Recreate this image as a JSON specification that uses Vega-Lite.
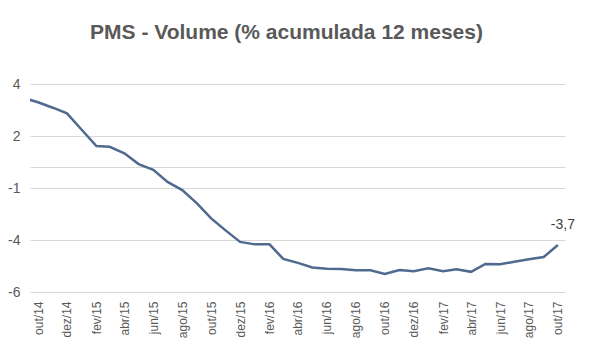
{
  "$schema": "https://vega.github.io/schema/vega-lite/v6.json",
  "width": 535,
  "height": 208,
  "autosize": "none",
  "padding": {"left": 30, "top": 84, "right": 37, "bottom": 72},
  "background": "white",
  "config": {
    "view": {"stroke": null},
    "font": "Liberation Sans",
    "axis": {"labelFont": "Liberation Sans"},
    "locale": {
      "number": {"decimal": ",", "thousands": ".", "grouping": [3], "currency": ["R$", ""], "minus": "-"},
      "time": {
        "dateTime": "%A, %e de %B de %Y. %X",
        "date": "%d/%m/%Y",
        "time": "%H:%M:%S",
        "periods": ["AM", "PM"],
        "days": ["Domingo", "Segunda", "Terça", "Quarta", "Quinta", "Sexta", "Sábado"],
        "shortDays": ["Dom", "Seg", "Ter", "Qua", "Qui", "Sex", "Sáb"],
        "months": ["Janeiro", "Fevereiro", "Março", "Abril", "Maio", "Junho", "Julho", "Agosto", "Setembro", "Outubro", "Novembro", "Dezembro"],
        "shortMonths": ["jan", "fev", "mar", "abr", "mai", "jun", "jul", "ago", "set", "out", "nov", "dez"]
      }
    }
  },
  "title": {
    "text": "PMS - Volume (% acumulada 12 meses)",
    "fontSize": 21,
    "fontWeight": "bold",
    "font": "Liberation Sans",
    "color": "#595959",
    "anchor": "middle",
    "offset": 34,
    "dx": -11
  },
  "data": {
    "values": [
      {"mes": "2014-09-01", "v": 3.33},
      {"mes": "2014-10-01", "v": 3.12},
      {"mes": "2014-11-01", "v": 2.86},
      {"mes": "2014-12-01", "v": 2.59},
      {"mes": "2015-01-01", "v": 1.80},
      {"mes": "2015-02-01", "v": 1.02},
      {"mes": "2015-03-01", "v": 0.98},
      {"mes": "2015-04-01", "v": 0.67},
      {"mes": "2015-05-01", "v": 0.15},
      {"mes": "2015-06-01", "v": -0.13},
      {"mes": "2015-07-01", "v": -0.71},
      {"mes": "2015-08-01", "v": -1.10},
      {"mes": "2015-09-01", "v": -1.74},
      {"mes": "2015-10-01", "v": -2.46},
      {"mes": "2015-11-01", "v": -3.05},
      {"mes": "2015-12-01", "v": -3.59},
      {"mes": "2016-01-01", "v": -3.71},
      {"mes": "2016-02-01", "v": -3.71},
      {"mes": "2016-03-01", "v": -4.41},
      {"mes": "2016-04-01", "v": -4.60},
      {"mes": "2016-05-01", "v": -4.82},
      {"mes": "2016-06-01", "v": -4.88},
      {"mes": "2016-07-01", "v": -4.89},
      {"mes": "2016-08-01", "v": -4.96},
      {"mes": "2016-09-01", "v": -4.96},
      {"mes": "2016-10-01", "v": -5.13},
      {"mes": "2016-11-01", "v": -4.94},
      {"mes": "2016-12-01", "v": -5.00},
      {"mes": "2017-01-01", "v": -4.86},
      {"mes": "2017-02-01", "v": -5.00},
      {"mes": "2017-03-01", "v": -4.91},
      {"mes": "2017-04-01", "v": -5.03},
      {"mes": "2017-05-01", "v": -4.65},
      {"mes": "2017-06-01", "v": -4.67},
      {"mes": "2017-07-01", "v": -4.55},
      {"mes": "2017-08-01", "v": -4.43},
      {"mes": "2017-09-01", "v": -4.32},
      {"mes": "2017-10-01", "v": -3.74}
    ]
  },
  "encoding": {
    "x": {
      "field": "mes",
      "type": "temporal",
      "scale": {
        "type": "utc",
        "domain": [
          {"year": 2014, "month": 9, "date": 14, "utc": true},
          {"year": 2017, "month": 10, "date": 16, "utc": true}
        ]
      },
      "axis": {
        "title": null,
        "format": "%b/%y",
        "labelAngle": -90,
        "labelFontSize": 12,
        "labelColor": "#595959",
        "labelPadding": 9,
        "domain": false,
        "ticks": false,
        "grid": false,
        "labelOverlap": false,
        "labelFlush": false,
        "values": [
          {"year": 2014, "month": 10, "date": 1, "utc": true},
          {"year": 2014, "month": 12, "date": 1, "utc": true},
          {"year": 2015, "month": 2, "date": 1, "utc": true},
          {"year": 2015, "month": 4, "date": 1, "utc": true},
          {"year": 2015, "month": 6, "date": 1, "utc": true},
          {"year": 2015, "month": 8, "date": 1, "utc": true},
          {"year": 2015, "month": 10, "date": 1, "utc": true},
          {"year": 2015, "month": 12, "date": 1, "utc": true},
          {"year": 2016, "month": 2, "date": 1, "utc": true},
          {"year": 2016, "month": 4, "date": 1, "utc": true},
          {"year": 2016, "month": 6, "date": 1, "utc": true},
          {"year": 2016, "month": 8, "date": 1, "utc": true},
          {"year": 2016, "month": 10, "date": 1, "utc": true},
          {"year": 2016, "month": 12, "date": 1, "utc": true},
          {"year": 2017, "month": 2, "date": 1, "utc": true},
          {"year": 2017, "month": 4, "date": 1, "utc": true},
          {"year": 2017, "month": 6, "date": 1, "utc": true},
          {"year": 2017, "month": 8, "date": 1, "utc": true},
          {"year": 2017, "month": 10, "date": 1, "utc": true}
        ]
      }
    },
    "y": {
      "field": "v",
      "type": "quantitative",
      "scale": {"domain": [-6, 4], "nice": false, "zero": false},
      "axis": {
        "title": null,
        "values": [4, 1.5, 0, -1, -3.5, -6],
        "format": ".0f",
        "labelExpr": "datum.value == 0 ? '' : datum.label",
        "domain": false,
        "ticks": false,
        "grid": true,
        "gridColor": "#d9d9d9",
        "gridWidth": 1,
        "labelFontSize": 14,
        "labelColor": "#595959",
        "labelPadding": 10
      }
    }
  },
  "layer": [
    {
      "mark": {"type": "line", "clip": true, "color": "#4F6A8F", "strokeWidth": 2.5}
    },
    {
      "transform": [{"filter": "utcyear(datum.mes) == 2017 && utcmonth(datum.mes) == 9"}],
      "mark": {"type": "text", "fontSize": 14, "color": "#404040", "dx": 5, "dy": -20, "font": "Liberation Sans"},
      "encoding": {
        "text": {"field": "v", "type": "quantitative", "format": ".1f"}
      }
    }
  ]
}
